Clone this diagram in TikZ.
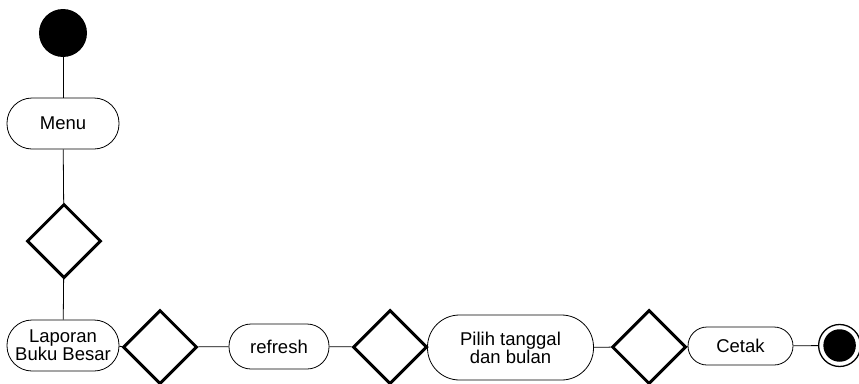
\documentclass[tikz,border=0pt]{standalone}
\usepackage{fontspec}
\setmainfont{Liberation Sans}
\usetikzlibrary{shapes.geometric}
\tikzset{
  act/.style={draw=black, line width=0.8pt, rectangle, inner sep=0pt, align=center,
    font=\fontsize{18.5}{21}\selectfont},
  dec/.style={draw=black, line width=3pt, diamond, aspect=1, inner sep=0pt,
    minimum width=74pt, minimum height=74pt},
  conn/.style={draw=black, line width=0.8pt},
}
\begin{document}
\begin{tikzpicture}[x=1pt,y=-1pt]
\useasboundingbox (0,0) rectangle (859,383);
\node[fill=black, circle, inner sep=0pt, minimum size=48pt] (start) at (63,33) {};
\node[act, minimum width=112pt, minimum height=51pt, rounded corners=25pt] (menu) at (63,123.5) {Menu};
\node[dec] (d1) at (64,241) {};
\node[act, minimum width=112pt, minimum height=51pt, rounded corners=25pt] (lap) at (63,345.5) {Laporan\\[-3pt]Buku Besar};
\node[dec] (d2) at (160,347) {};
\node[act, minimum width=100pt, minimum height=45pt, rounded corners=22pt] (ref) at (279,346.5) {refresh};
\node[dec] (d3) at (390,347) {};
\node[act, minimum width=166pt, minimum height=65pt, rounded corners=32pt] (pil) at (510.5,347.5) {Pilih tanggal\\[-3pt]dan bulan};
\node[dec] (d4) at (649,347) {};
\node[act, minimum width=105pt, minimum height=38pt, rounded corners=19pt] (cet) at (740.5,346) {Cetak};
\node[circle, draw=black, line width=1.3pt, inner sep=0pt, minimum size=42pt] (end) at (839.6,345.5) {};
\node[circle, fill=black, inner sep=0pt, minimum size=32.5pt] (endin) at (end.center) {};
\draw[conn] (start) -- (menu);
\draw[conn] (menu) -- (d1);
\draw[conn] (d1) -- (lap);
\draw[conn] (lap) -- (d2);
\draw[conn] (d2) -- (ref);
\draw[conn] (ref) -- (d3);
\draw[conn] (d3) -- (pil);
\draw[conn] (pil) -- (d4);
\draw[conn] (d4) -- (cet);
\draw[conn] (cet) -- (end);
\end{tikzpicture}
\end{document}
